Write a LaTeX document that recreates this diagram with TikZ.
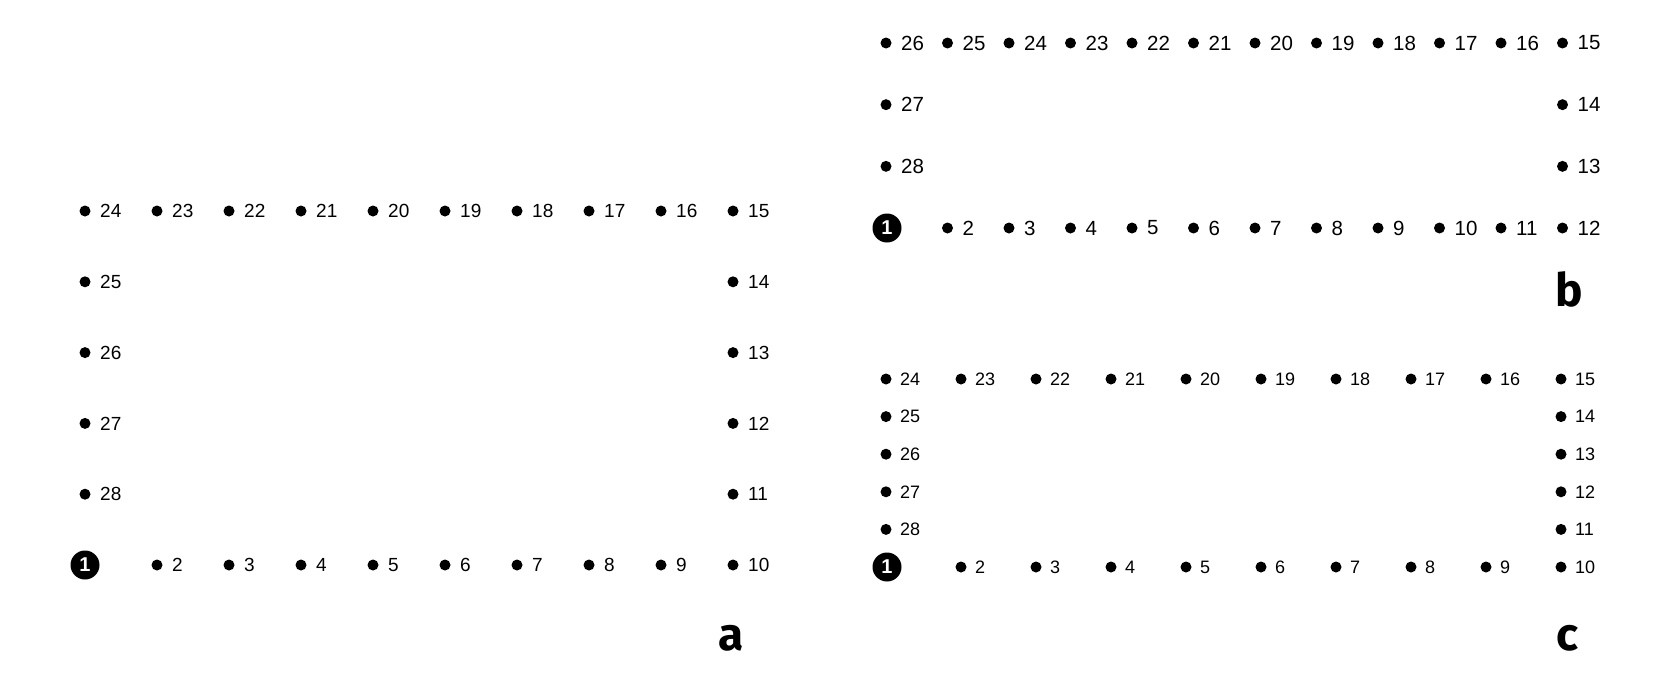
\documentclass[tikz,border=0pt]{standalone}
\usepackage{fontspec}
\setmainfont{Liberation Sans}
\newfontfamily\letterfont{Fira Sans}
\begin{document}
\begin{tikzpicture}[x=1pt,y=-1pt,
  dotn/.style={circle,fill=black,inner sep=0pt,minimum size=11pt},
  lbla/.style={anchor=west,inner sep=0pt,font=\fontsize{19}{19}\selectfont},
  lblb/.style={anchor=west,inner sep=0pt,font=\fontsize{20.5}{20.5}\selectfont},
  lblc/.style={anchor=west,inner sep=0pt,font=\fontsize{18}{18}\selectfont},
  startn/.style={circle,fill=black,inner sep=0pt,minimum size=29pt,text=white,font=\fontsize{20}{20}\selectfont\bfseries},
  panl/.style={anchor=base,inner sep=0pt,font=\letterfont\bfseries\fontsize{46}{46}\selectfont}]
\useasboundingbox (0,0) rectangle (1662,686);

% ---------- panel a ----------
\node[startn] (a1) at (85,565) {1};
\foreach \k in {2,...,10}{\pgfmathsetmacro\xx{85+72*(\k-1)}
  \node[dotn] (a\k) at (\xx,565) {};
  \node[lbla] (ta\k) at ([xshift=15pt]a\k.center) {\k};}
\foreach \k in {11,...,14}{\pgfmathsetmacro\yy{211+70.8*(5-(\k-10))}
  \node[dotn] (a\k) at (733,\yy) {};
  \node[lbla] (ta\k) at ([xshift=15pt]a\k.center) {\k};}
\foreach \k in {15,...,24}{\pgfmathsetmacro\xx{85+72*(9-(\k-15))}
  \node[dotn] (a\k) at (\xx,211) {};
  \node[lbla] (ta\k) at ([xshift=15pt]a\k.center) {\k};}
\foreach \k in {25,...,28}{\pgfmathsetmacro\yy{211+70.8*(\k-24)}
  \node[dotn] (a\k) at (85,\yy) {};
  \node[lbla] (ta\k) at ([xshift=15pt]a\k.center) {\k};}
\node[panl] (la) at (731,650) {a};

% ---------- panel b ----------
\node[startn] (b1) at (887,228) {1};
\foreach \k in {2,...,12}{\pgfmathsetmacro\xx{886+61.5*(\k-1)}
  \node[dotn] (b\k) at (\xx,228) {};
  \node[lblb] (tb\k) at ([xshift=15pt]b\k.center) {\k};}
\foreach \k in {13,14}{\pgfmathsetmacro\yy{43+61.67*(3-(\k-12))}
  \node[dotn] (b\k) at (1562.5,\yy) {};
  \node[lblb] (tb\k) at ([xshift=15pt]b\k.center) {\k};}
\foreach \k in {15,...,26}{\pgfmathsetmacro\xx{886+61.5*(11-(\k-15))}
  \node[dotn] (b\k) at (\xx,43) {};
  \node[lblb] (tb\k) at ([xshift=15pt]b\k.center) {\k};}
\foreach \k in {27,28}{\pgfmathsetmacro\yy{43+61.67*(\k-26)}
  \node[dotn] (b\k) at (886,\yy) {};
  \node[lblb] (tb\k) at ([xshift=15pt]b\k.center) {\k};}
\node[panl] (lb) at (1569,306) {b};

% ---------- panel c ----------
\node[startn] (c1) at (887,567) {1};
\foreach \k in {2,...,10}{\pgfmathsetmacro\xx{886+75*(\k-1)}
  \node[dotn] (c\k) at (\xx,567) {};
  \node[lblc] (tc\k) at ([xshift=14pt]c\k.center) {\k};}
\foreach \k in {11,...,14}{\pgfmathsetmacro\yy{379+37.6*(5-(\k-10))}
  \node[dotn] (c\k) at (1561,\yy) {};
  \node[lblc] (tc\k) at ([xshift=14pt]c\k.center) {\k};}
\foreach \k in {15,...,24}{\pgfmathsetmacro\xx{886+75*(9-(\k-15))}
  \node[dotn] (c\k) at (\xx,379) {};
  \node[lblc] (tc\k) at ([xshift=14pt]c\k.center) {\k};}
\foreach \k in {25,...,28}{\pgfmathsetmacro\yy{379+37.6*(\k-24)}
  \node[dotn] (c\k) at (886,\yy) {};
  \node[lblc] (tc\k) at ([xshift=14pt]c\k.center) {\k};}
\node[panl] (lc) at (1567,650) {c};
\end{tikzpicture}
\end{document}
